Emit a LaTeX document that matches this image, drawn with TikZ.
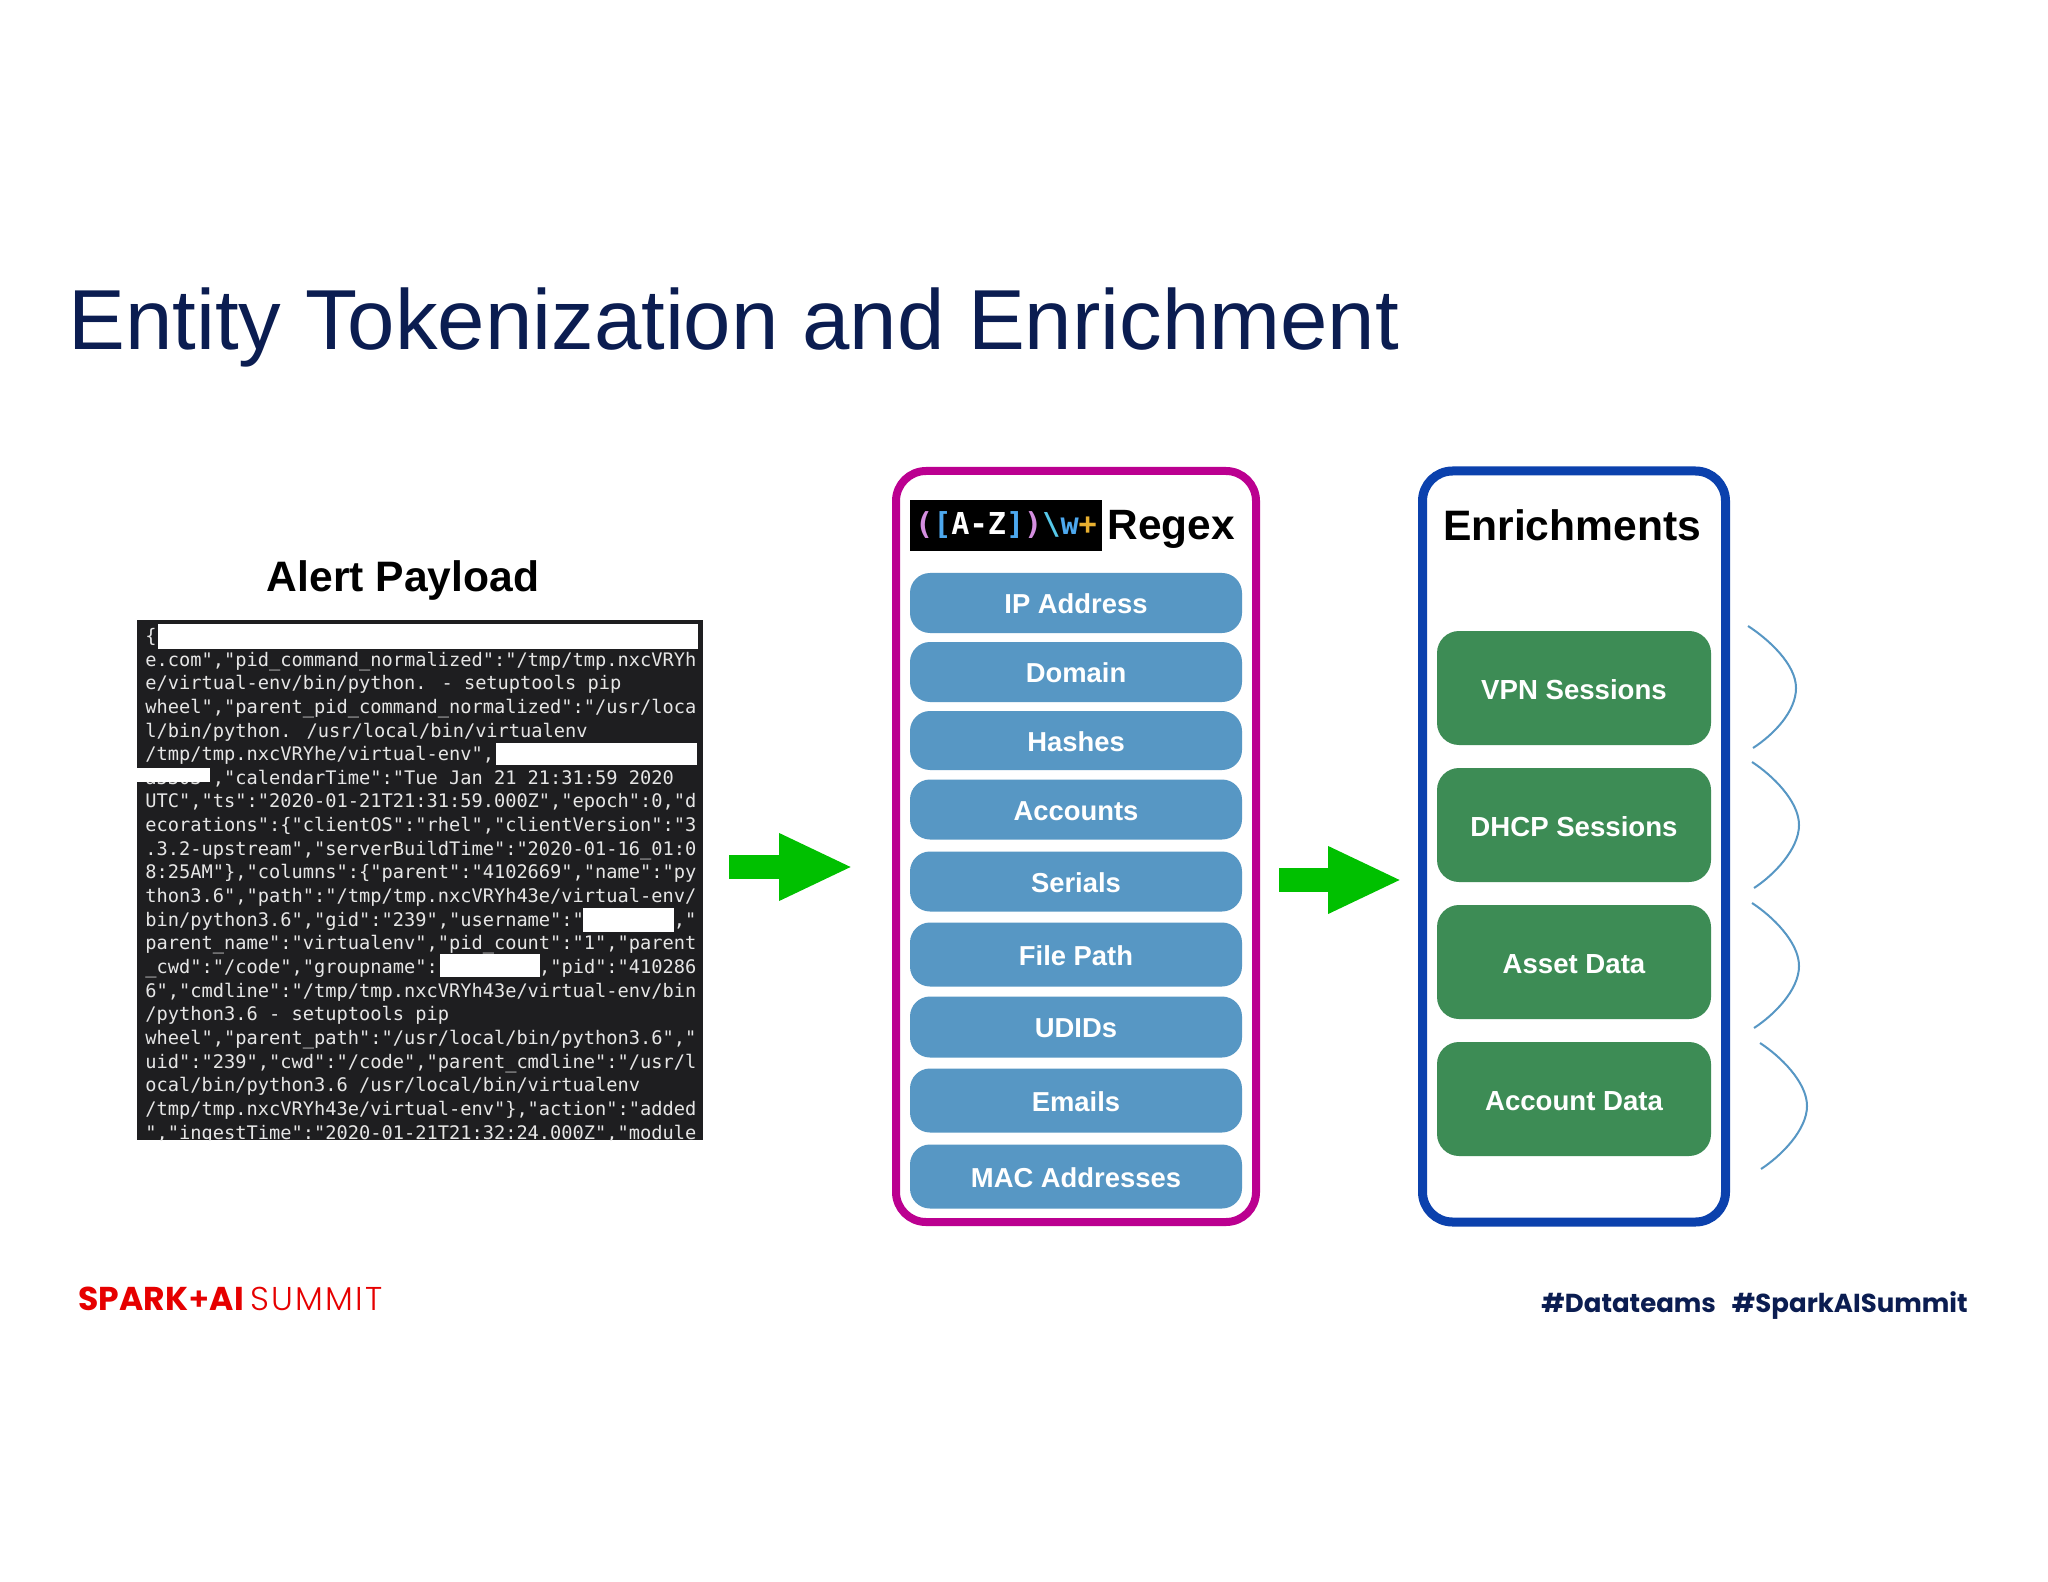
\documentclass[tikz,border=0pt]{standalone}
\usepackage{fontspec}
\usetikzlibrary{calc,arrows.meta}
\setmainfont{Liberation Sans}
\newfontfamily\codefont{DejaVu Sans Mono}
\newfontfamily\popfont{Poppins}
\newfontfamily\poplight[LetterSpace=7]{Poppins Light}
\definecolor{navy}{HTML}{0B1D51}
\definecolor{magentabox}{HTML}{BB0090}
\definecolor{bluebox}{HTML}{0B41AD}
\definecolor{pill}{HTML}{5797C4}
\definecolor{greenpill}{HTML}{3D8C55}
\definecolor{flow}{HTML}{00C000}
\definecolor{codebg}{HTML}{1E1E20}
\definecolor{codefg}{HTML}{E6E6E6}
\definecolor{sparkred}{HTML}{E60000}
\definecolor{rxpink}{HTML}{D58FE0}
\definecolor{rxblue}{HTML}{4DA8EE}
\definecolor{rxcyan}{HTML}{56C8E8}
\definecolor{rxamber}{HTML}{E8B030}
\tikzset{
  frame/.style={draw,fill=white,rounded corners=15pt,inner sep=0pt,outer sep=0pt},
  bluepill/.style={fill=pill,rounded corners=10pt,inner sep=0pt,outer sep=0pt,minimum width=166pt,text=white,text height=10.6pt,text depth=0pt,font=\bfseries\fontsize{13.7}{16}\selectfont},
  greenbox/.style={fill=greenpill,rounded corners=11pt,inner sep=0pt,outer sep=0pt,minimum width=137pt,minimum height=57pt,text=white,text height=11.2pt,text depth=0pt,font=\bfseries\fontsize{13.8}{16}\selectfont},
  heading/.style={anchor=base,inner sep=0pt,font=\bfseries\fontsize{21.3}{24}\selectfont},
  codeline/.style={anchor=base west,inner sep=0pt,text=codefg,font=\codefont\fontsize{9.34}{11}\selectfont},
  redact/.style={fill=white,draw=none},
  flowarrow/.style={draw=flow,line width=12pt,-{Triangle[length=37pt,width=31pt]}},
  bracecurve/.style={draw=pill,line width=1pt},
}
\newcommand\cl[2]{\node[codeline] (l#1) at (145,{642.4+(#1-1)*23.65}) {#2};}
\newcommand\rcurve[3]{\draw[bracecurve] (#1) .. controls ($(#1)+(20,13)$) and ($(#2)+(0,-24)$) .. (#2) .. controls ($(#2)+(0,24)$) and ($(#3)+(20,-13)$) .. (#3);}
\begin{document}
\begin{tikzpicture}[x=0.5pt,y=-0.5pt]
\useasboundingbox (0,0) rectangle (2048,1582);
\fill[white] (0,0) rectangle (2048,1582);
% title
\node[anchor=base west,inner sep=0pt,text=navy,font=\fontsize{42.6}{48}\selectfont] (title) at (68,350) {Entity Tokenization and Enrichment};
% payload
\node[heading] (alert) at (403,591) {Alert Payload};
\fill[codebg] (137,620) rectangle (703,1140);
\begin{scope}
\clip (137,620) rectangle (703,1140);
\cl{1}{\{}
\cl{2}{e.com","pid\_command\_normalized":"/tmp/tmp.nxcVRYh}
\cl{3}{e/virtual-env/bin/python. - setuptools pip}
\cl{4}{wheel","parent\_pid\_command\_normalized":"/usr/loca}
\cl{5}{l/bin/python. /usr/local/bin/virtualenv}
\cl{6}{/tmp/tmp.nxcVRYhe/virtual-env",}
\cl{7}{a5303","calendarTime":"Tue Jan 21 21:31:59 2020}
\cl{8}{UTC","ts":"2020-01-21T21:31:59.000Z","epoch":0,"d}
\cl{9}{ecorations":\{"clientOS":"rhel","clientVersion":"3}
\cl{10}{.3.2-upstream","serverBuildTime":"2020-01-16\_01:0}
\cl{11}{8:25AM"\},"columns":\{"parent":"4102669","name":"py}
\cl{12}{thon3.6","path":"/tmp/tmp.nxcVRYh43e/virtual-env/}
\cl{13}{bin/python3.6","gid":"239","username":"~~~~~~~~,"}
\cl{14}{parent\_name":"virtualenv","pid\_count":"1","parent}
\cl{15}{\_cwd":"/code","groupname":~~~~~~~~~,"pid":"410286}
\cl{16}{6","cmdline":"/tmp/tmp.nxcVRYh43e/virtual-env/bin}
\cl{17}{/python3.6 - setuptools pip}
\cl{18}{wheel","parent\_path":"/usr/local/bin/python3.6","}
\cl{19}{uid":"239","cwd":"/code","parent\_cmdline":"/usr/l}
\cl{20}{ocal/bin/python3.6 /usr/local/bin/virtualenv}
\cl{21}{/tmp/tmp.nxcVRYh43e/virtual-env"\},"action":"added}
\cl{22}{","ingestTime":"2020-01-21T21:32:24.000Z","module}
\end{scope}
\fill[redact] (158,624) rectangle (698,649);
\fill[redact] (496,743) rectangle (697,765);
\fill[redact] (137,768) rectangle (210,782);
\fill[redact] (583,908) rectangle (674,932);
\fill[redact] (440,954) rectangle (540,977);
% regex frame
\node[frame,draw=magentabox,line width=4pt,minimum width=180pt,minimum height=375.5pt] (regexframe) at (1076,846.5) {};
\node[fill=black,inner sep=0pt,outer sep=0pt,minimum width=96pt,minimum height=25.5pt,font=\codefont\bfseries\fontsize{15.1}{18}\selectfont] (logo) at (1006,525.5)
 {\textcolor{rxpink}{(}\textcolor{rxblue}{[}\textcolor{white}{A-Z}\textcolor{rxblue}{]}\textcolor{rxpink}{)}\textcolor{rxcyan}{\textbackslash}\textcolor{rxblue}{w}\textcolor{rxamber}{+}};
\node[anchor=base west,inner sep=0pt,font=\bfseries\fontsize{21.2}{24}\selectfont] (regextitle) at (1107,540) {Regex};
\node[bluepill,minimum height=30pt] (p1) at (1076,603) {IP Address};
\node[bluepill,minimum height=30pt] (p2) at (1076,672) {Domain};
\node[bluepill,minimum height=29.5pt] (p3) at (1076,740.5) {Hashes};
\node[bluepill,minimum height=30pt] (p4) at (1076,809.5) {Accounts};
\node[bluepill,minimum height=30pt] (p5) at (1076,881.5) {Serials};
\node[bluepill,minimum height=32pt] (p6) at (1076,954.5) {File Path};
\node[bluepill,minimum height=30.5pt] (p7) at (1076,1027) {UDIDs};
\node[bluepill,minimum height=32pt] (p8) at (1076,1100.5) {Emails};
\node[bluepill,minimum height=32pt] (p9) at (1076,1176.5) {MAC Addresses};
% enrichments frame
\node[frame,draw=bluebox,line width=4.5pt,minimum width=151.5pt,minimum height=375.5pt] (enrichframe) at (1574,846.5) {};
\node[heading] (enrichtitle) at (1572,541) {Enrichments};
\node[greenbox] (g1) at (1574,688) {VPN Sessions};
\node[greenbox] (g2) at (1574,825) {DHCP Sessions};
\node[greenbox] (g3) at (1574,962) {Asset Data};
\node[greenbox] (g4) at (1574,1099) {Account Data};
% curves
\coordinate (c1s) at (1748,626); \coordinate (c1p) at (1796,688); \coordinate (c1e) at (1753,748);
\coordinate (c2s) at (1752,762); \coordinate (c2p) at (1799,825); \coordinate (c2e) at (1754,888);
\coordinate (c3s) at (1752,903); \coordinate (c3p) at (1799,966); \coordinate (c3e) at (1754,1028);
\coordinate (c4s) at (1760,1043); \coordinate (c4p) at (1807,1106); \coordinate (c4e) at (1761,1169);
\rcurve{c1s}{c1p}{c1e}
\rcurve{c2s}{c2p}{c2e}
\rcurve{c3s}{c3p}{c3e}
\rcurve{c4s}{c4p}{c4e}
% arrows
\coordinate (a1s) at (729,867); \coordinate (a1e) at (853,867);
\coordinate (a2s) at (1279,880); \coordinate (a2e) at (1402,880);
\draw[flowarrow] (a1s) -- (a1e);
\draw[flowarrow] (a2s) -- (a2e);
% footer
\node[anchor=base west,inner sep=0pt,text=sparkred,font=\popfont\bfseries\fontsize{16.5}{20}\selectfont] (spark) at (78,1310) {SPARK{\fontsize{16}{20}\poplight+}AI};
\node[anchor=base west,inner sep=0pt,text=sparkred,font=\poplight\fontsize{16.5}{20}\selectfont] (summit) at (250,1310) {SUMMIT};
\node[anchor=base east,inner sep=0pt,text=navy,font=\popfont\bfseries\fontsize{13}{18}\selectfont] (tags) at (1968,1312) {\#Datateams\hspace{8pt}\#SparkAISummit};
\end{tikzpicture}
\end{document}
